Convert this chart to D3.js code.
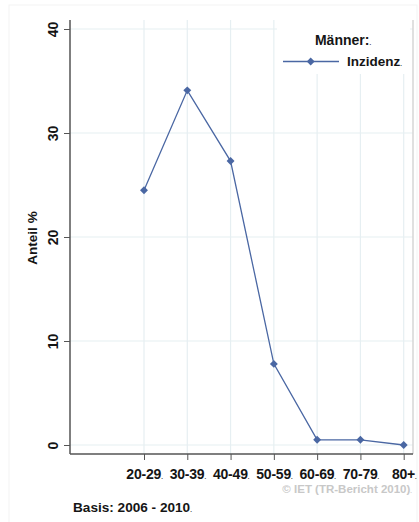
<!DOCTYPE html>
<html><head><meta charset="utf-8">
<script src="https://cdn.jsdelivr.net/npm/d3@7/dist/d3.min.js"></script>
<style>body{margin:0;background:#fff}svg{display:block;font-family:"Liberation Sans",Arial,sans-serif}</style>
</head><body>
<script>
const categories = ["20-29","30-39","40-49","50-59","60-69","70-79","80+"];
const values = [24.5, 34.1, 27.3, 7.8, 0.5, 0.5, 0.0];
const yTicks = [0, 10, 20, 30, 40];
const seriesName = "Inzidenz";
const legendTitle = "Männer:";
const yTitle = "Anteil %";
const note = "Basis: 2006 - 2010";
const credit = "© IET (TR-Bericht 2010)";

(function () {
const W = 419, H = 522;
const svg = d3.select("body").append("svg").attr("width", W).attr("height", H);
const color = "#4a67a3", grid = "#e6eff2", ink = "#151515";
const pLeft = 70, pRight = 413, pTop = 20, pBottom = 454;

svg.append("rect").attr("x", 9).attr("y", 5).attr("width", W - 11).attr("height", H - 4)
  .attr("fill", "none").attr("stroke", "#f3f3f3");

const x = d3.scalePoint().domain(categories).range([144, 403.7]);
const y = d3.scaleLinear().domain([0, 40]).range([445, 29]);

// gridlines
svg.append("g").selectAll("line").data(yTicks).join("line")
  .attr("x1", pLeft).attr("x2", pRight).attr("y1", d => y(d)).attr("y2", d => y(d))
  .attr("stroke", grid).attr("stroke-width", 1.2);
svg.append("g").selectAll("line").data(categories).join("line")
  .attr("x1", d => x(d)).attr("x2", d => x(d)).attr("y1", pTop).attr("y2", pBottom)
  .attr("stroke", grid).attr("stroke-width", 1.2);

// right frame line
svg.append("line").attr("x1", pRight).attr("x2", pRight).attr("y1", pTop).attr("y2", pBottom)
  .attr("stroke", "#d6d6d6").attr("stroke-width", 1.5);

// legend box
const lg = svg.append("g");
lg.append("rect").attr("x", 277).attr("y", pTop).attr("width", 133).attr("height", 54).attr("fill", "#fff");
lg.append("text").attr("x", 343).attr("y", 45).attr("text-anchor", "middle")
  .attr("font-size", 14).attr("font-weight", "bold").attr("fill", ink)
  .text(legendTitle).append("tspan").attr("font-size", 6).text(".");
lg.append("line").attr("x1", 283).attr("x2", 339).attr("y1", 61.5).attr("y2", 61.5)
  .attr("stroke", color).attr("stroke-width", 1.3);
lg.append("path").attr("d", d3.symbol(d3.symbolDiamond2, 40)()).attr("transform", "translate(310.7,61.5)").attr("fill", color);
lg.append("text").attr("x", 347).attr("y", 66).attr("font-size", 13.5).attr("font-weight", "bold").attr("fill", ink)
  .text(seriesName).append("tspan").attr("font-size", 6).text(".");

// axes
const yAxis = svg.append("g").attr("transform", `translate(${pLeft},0)`)
  .call(d3.axisLeft(y).tickValues(yTicks).tickSize(6).tickFormat(d3.format("d")));
yAxis.select(".domain").attr("d", `M0,${pTop}V${pBottom}`).attr("stroke", "#555").attr("stroke-width", 1.5);
yAxis.selectAll(".tick line").attr("stroke", "#555");
yAxis.selectAll(".tick text").attr("transform", "rotate(-90)").attr("x", 0).attr("y", -12)
  .attr("dy", "0").attr("text-anchor", "middle").attr("font-size", 14).attr("font-weight", "bold")
  .attr("fill", ink).attr("font-family", null);

const xAxis = svg.append("g").attr("transform", `translate(0,${pBottom})`)
  .call(d3.axisBottom(x).tickSize(6).tickPadding(6));
xAxis.select(".domain").attr("d", `M${pLeft},0H${pRight}`).attr("stroke", "#555").attr("stroke-width", 1.5);
xAxis.selectAll(".tick line").attr("stroke", "#555");
xAxis.selectAll(".tick text").attr("font-size", 14).attr("font-weight", "bold").attr("fill", ink)
  .attr("font-family", null).attr("dy", "0.9em").attr("letter-spacing", -0.2)
  .append("tspan").attr("font-size", 6).text(".");

// y title
svg.append("text").attr("transform", "translate(37,238) rotate(-90)").attr("text-anchor", "middle")
  .attr("font-size", 13.5).attr("font-weight", "bold").attr("fill", ink).text(yTitle);

// line + markers
svg.append("path").datum(values).attr("fill", "none").attr("stroke", color).attr("stroke-width", 1.3)
  .attr("d", d3.line().x((d, i) => x(categories[i])).y(d => y(d)));
svg.append("g").selectAll("path").data(values).join("path")
  .attr("d", d3.symbol(d3.symbolDiamond2, 40)())
  .attr("transform", (d, i) => `translate(${x(categories[i])},${y(d)})`).attr("fill", color);

// notes
svg.append("text").attr("x", 412).attr("y", 493).attr("text-anchor", "end").attr("font-size", 11.5)
  .attr("font-weight", "bold").attr("fill", "#c8c8c8").text(credit).append("tspan").attr("font-size", 6).text(".");
svg.append("text").attr("x", 73).attr("y", 512).attr("font-size", 13.6).attr("font-weight", "bold")
  .attr("fill", ink).text(note).append("tspan").attr("font-size", 6).text(".");
})();
</script>
</body></html>
